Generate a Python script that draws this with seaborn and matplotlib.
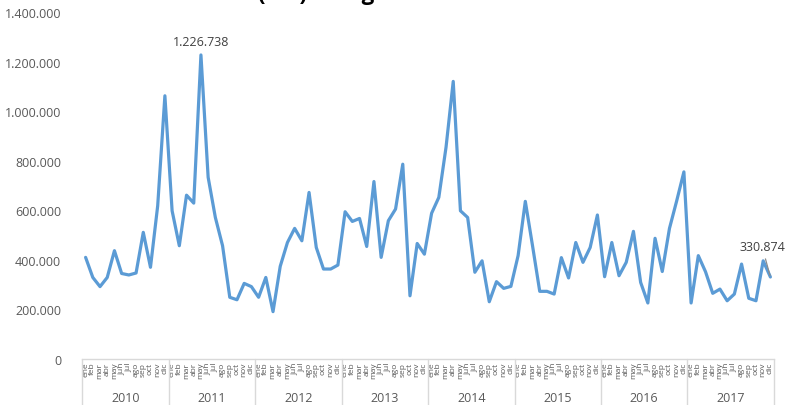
import numpy as np
import pandas as pd
import matplotlib
matplotlib.use("Agg")
import matplotlib.pyplot as plt
import matplotlib.transforms as mtransforms
from matplotlib.ticker import FuncFormatter
import seaborn as sns

# --- datos (lectura aproximada del gráfico) ---
years = [2010, 2011, 2012, 2013, 2014, 2015, 2016, 2017]
months = ["ene", "feb", "mar", "abr", "may", "jun",
          "jul", "ago", "sep", "oct", "nov", "dic"]

v2010 = [410000, 329000, 292000, 329000, 437000, 345000, 339000, 347000, 511000, 370000, 618000, 1062000]
v2011 = [598000, 457000, 661000, 629000, 1226738, 733000, 571000, 457000, 249000, 239000, 305000, 292000]
v2012 = [249000, 329000, 191000, 374000, 470000, 527000, 477000, 672000, 450000, 363000, 363000, 379000]
v2013 = [594000, 555000, 567000, 454000, 716000, 410000, 558000, 605000, 786000, 255000, 466000, 423000]
v2014 = [588000, 652000, 854000, 1120000, 598000, 571000, 350000, 396000, 231000, 312000, 285000, 293000]
v2015 = [417000, 636000, 457000, 273000, 273000, 262000, 409000, 327000, 470000, 390000, 450000, 581000]
v2016 = [332000, 470000, 336000, 390000, 515000, 309000, 226000, 487000, 353000, 527000, 638000, 755000]
v2017 = [226000, 417000, 352000, 265000, 282000, 235000, 262000, 383000, 245000, 235000, 396000, 330874]

values = v2010 + v2011 + v2012 + v2013 + v2014 + v2015 + v2016 + v2017
df = pd.DataFrame({
    "idx": np.arange(len(values)),
    "mes": months * len(years),
    "valor": values,
})

# --- estilo ---
sns.set_style("white")
plt.rcParams["font.family"] = ["Open Sans", "DejaVu Sans"]
gris = "#595959"
azul = "#5B9BD5"
linea_eje = "#D9D9D9"

def miles(x, pos=None):
    return f"{int(round(x)):,}".replace(",", ".")

fig = plt.figure(figsize=(7.86, 4.06), dpi=100)
ax = fig.add_axes([82 / 786, 46 / 406, 692 / 786, 347 / 406])

sns.lineplot(data=df, x="idx", y="valor", ax=ax, color=azul, linewidth=2.3)

ax.set_xlim(-0.5, len(values) - 0.5)
ax.set_ylim(0, 1400000)
ax.set_yticks(np.arange(0, 1400001, 200000))
ax.yaxis.set_major_formatter(FuncFormatter(miles))
ax.tick_params(axis="y", length=0, pad=15, labelsize=9, labelcolor=gris)

ax.set_xticks(df["idx"])
ax.set_xticklabels(df["mes"], rotation=90, fontsize=6, color=gris)
ax.tick_params(axis="x", length=0, pad=2)
ax.set_xlabel("")
ax.set_ylabel("")

for s in ["top", "right", "left"]:
    ax.spines[s].set_visible(False)
ax.spines["bottom"].set_color(linea_eje)
ax.spines["bottom"].set_linewidth(1.0)

# separadores de años y etiquetas de año
trans = mtransforms.blended_transform_factory(ax.transData, fig.transFigure)
for k in range(len(years) + 1):
    xb = k * 12 - 0.5
    ax.plot([xb, xb], [0, 46 / 406], transform=trans, color=linea_eje,
            lw=1.0, clip_on=False)
for k, yr in enumerate(years):
    ax.text(k * 12 + 5.5, 1 / 406, str(yr), transform=trans, ha="center",
            va="bottom", fontsize=9, color=gris)

# etiquetas de datos
imax = int(np.argmax(values))
ax.annotate(miles(values[imax]), xy=(imax, values[imax]), xytext=(0, 10),
            textcoords="offset points", ha="center", va="center",
            fontsize=9, color="#404040")
ilast = len(values) - 1
ax.annotate(miles(values[ilast]), xy=(ilast, values[ilast]), xytext=(-6, 22),
            textcoords="offset points", ha="center", va="center",
            fontsize=9, color="#404040",
            arrowprops=dict(arrowstyle="-", color="#8C8C8C", lw=0.9,
                            shrinkA=2, shrinkB=1))

# título (cortado en el borde superior como en la referencia)
fig.text(258 / 786, 1.0, "(TM) Mango fresco", ha="left", va="baseline",
         fontsize=16, fontweight="bold", color="black")

fig.savefig("out.png", dpi=100)
